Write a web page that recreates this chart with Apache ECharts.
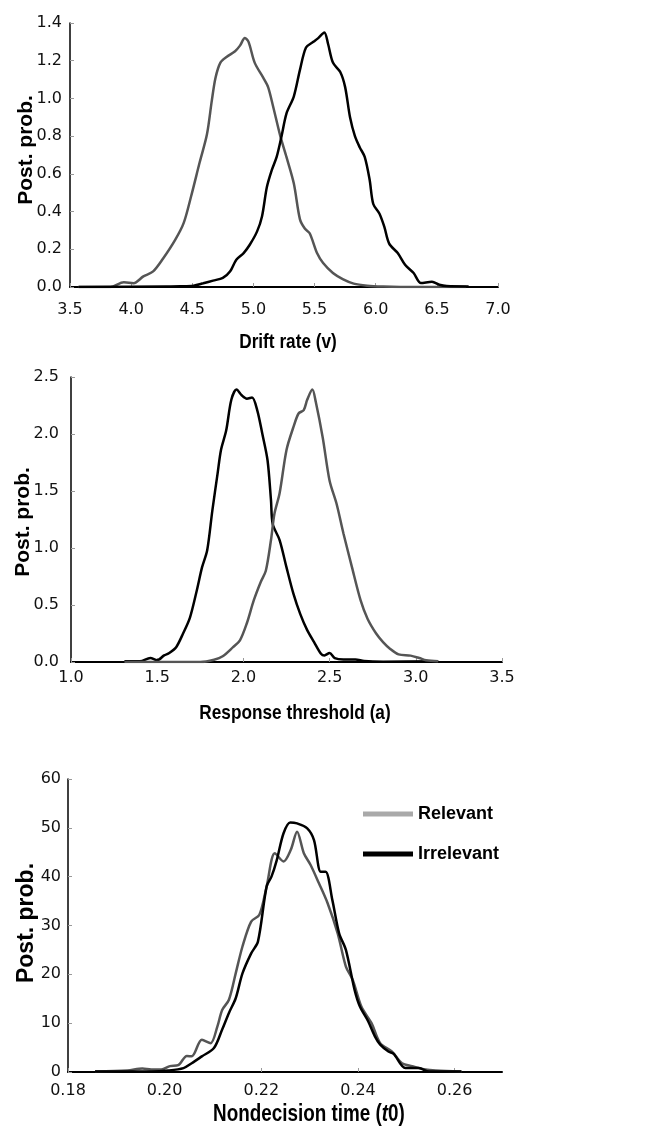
<!DOCTYPE html>
<html>
<head>
<meta charset="utf-8">
<script src="https://cdn.jsdelivr.net/npm/echarts@6/dist/echarts.min.js"></script>
<style>
  html, body { margin: 0; padding: 0; background: #fff; }
  #chart { width: 654px; height: 1134px; }
</style>
</head>
<body>
<div id="chart"></div>
<script>
// 数据：后验密度 [x, 密度]
const driftRelevant = [
  [3.57, 0], [3.83, 0], [3.94, 0.025], [4.02, 0.02], [4.10, 0.056], [4.18, 0.083],
  [4.26, 0.15], [4.36, 0.25], [4.43, 0.34], [4.49, 0.48], [4.56, 0.66], [4.62, 0.81],
  [4.66, 0.99], [4.69, 1.11], [4.73, 1.19], [4.78, 1.22], [4.85, 1.25], [4.89, 1.28],
  [4.93, 1.32], [4.96, 1.30], [5.01, 1.19], [5.08, 1.11], [5.12, 1.06], [5.16, 0.96],
  [5.22, 0.80], [5.27, 0.69], [5.33, 0.55], [5.38, 0.36], [5.42, 0.31], [5.46, 0.285],
  [5.52, 0.18], [5.57, 0.127], [5.65, 0.074], [5.73, 0.042], [5.82, 0.018], [5.93, 0.007],
  [6.06, 0.002], [6.2, 0], [6.74, 0]
];
const driftIrrelevant = [
  [3.57, 0], [4.29, 0.003], [4.40, 0.004], [4.51, 0.007], [4.59, 0.02], [4.67, 0.034],
  [4.75, 0.048], [4.81, 0.083], [4.86, 0.145], [4.92, 0.18], [4.97, 0.224], [5.03, 0.295],
  [5.07, 0.374], [5.11, 0.53], [5.15, 0.62], [5.19, 0.69], [5.23, 0.80], [5.27, 0.92],
  [5.33, 1.01], [5.38, 1.15], [5.43, 1.27], [5.49, 1.30], [5.53, 1.32], [5.58, 1.35],
  [5.61, 1.29], [5.65, 1.19], [5.71, 1.14], [5.75, 1.06], [5.79, 0.90], [5.83, 0.80],
  [5.87, 0.74], [5.91, 0.69], [5.95, 0.57], [5.98, 0.44], [6.03, 0.39], [6.07, 0.32],
  [6.11, 0.23], [6.18, 0.18], [6.24, 0.118], [6.31, 0.074], [6.37, 0.021], [6.46, 0.028],
  [6.52, 0.012], [6.58, 0.005], [6.76, 0.003]
];
const threshRelevant = [
  [1.31, 0], [1.75, 0], [1.83, 0.02], [1.88, 0.05], [1.94, 0.13], [1.98, 0.19],
  [2.02, 0.34], [2.06, 0.54], [2.10, 0.70], [2.13, 0.80], [2.16, 1.07], [2.18, 1.30],
  [2.21, 1.48], [2.25, 1.86], [2.29, 2.06], [2.32, 2.18], [2.35, 2.21], [2.37, 2.30],
  [2.40, 2.39], [2.42, 2.28], [2.46, 1.97], [2.50, 1.59], [2.54, 1.39], [2.58, 1.13],
  [2.63, 0.83], [2.68, 0.54], [2.72, 0.38], [2.77, 0.25], [2.81, 0.175], [2.85, 0.117],
  [2.90, 0.067], [2.97, 0.056], [3.02, 0.035], [3.06, 0.015], [3.13, 0.006]
];
const threshIrrelevant = [
  [1.31, 0.006], [1.40, 0.006], [1.46, 0.035], [1.50, 0.015], [1.54, 0.058], [1.57, 0.079],
  [1.61, 0.13], [1.65, 0.25], [1.69, 0.39], [1.73, 0.63], [1.76, 0.83], [1.79, 0.98],
  [1.82, 1.33], [1.85, 1.65], [1.87, 1.86], [1.90, 2.03], [1.93, 2.30], [1.96, 2.39],
  [1.99, 2.34], [2.02, 2.31], [2.05, 2.32], [2.08, 2.21], [2.11, 2.00], [2.14, 1.77],
  [2.16, 1.42], [2.17, 1.21], [2.21, 1.07], [2.25, 0.83], [2.29, 0.60], [2.33, 0.42],
  [2.37, 0.28], [2.41, 0.175], [2.45, 0.073], [2.47, 0.058], [2.50, 0.079], [2.53, 0.035],
  [2.58, 0.023], [2.65, 0.023], [2.70, 0.009], [2.81, 0.003], [3.13, 0.006]
];
const t0Relevant = [
  [0.1856, 0.1], [0.1923, 0.3], [0.1954, 0.7], [0.1972, 0.5], [0.1993, 0.5], [0.2011, 1.2],
  [0.2028, 1.4], [0.2046, 3.3], [0.2056, 3.2], [0.2077, 6.6], [0.2095, 5.9], [0.2109, 9.3],
  [0.2119, 12.7], [0.2133, 14.8], [0.2147, 20.2], [0.2161, 25.7], [0.2179, 30.8], [0.2196, 32.2],
  [0.2211, 38.0], [0.2228, 44.8], [0.2246, 43.1], [0.2261, 45.5], [0.2274, 49.2], [0.2288, 44.8],
  [0.2302, 42.4], [0.2319, 38.7], [0.2337, 34.6], [0.2358, 28.4], [0.2375, 21.6], [0.2389, 18.9],
  [0.2407, 13.4], [0.2428, 10.0], [0.2446, 5.9], [0.2470, 4.2], [0.2491, 1.8], [0.2512, 1.2],
  [0.2540, 0.5], [0.2561, 0.3], [0.2614, 0.1]
];
const t0Irrelevant = [
  [0.1856, 0.1], [0.1972, 0.1], [0.2007, 0.3], [0.2039, 0.8], [0.2056, 1.8], [0.2077, 3.2],
  [0.2102, 4.9], [0.2119, 8.7], [0.2133, 12.1], [0.2147, 15.1], [0.2161, 20.2], [0.2179, 24.3],
  [0.2193, 26.7], [0.2211, 38.0], [0.2221, 40.0], [0.2232, 43.4], [0.2246, 48.9], [0.2260, 51.1],
  [0.2274, 50.9], [0.2295, 49.9], [0.2309, 47.5], [0.2323, 41.0], [0.2333, 41.0], [0.2347, 35.2],
  [0.2361, 28.4], [0.2375, 25.0], [0.2393, 16.8], [0.2404, 13.4], [0.2421, 10.4], [0.2435, 7.3],
  [0.2446, 5.6], [0.2463, 4.2], [0.2474, 3.7], [0.2498, 0.8], [0.2526, 0.8], [0.2547, 0.1],
  [0.2614, 0.1]
];
const seriesNames = ['Relevant', 'Irrelevant'];
const xTitles = ['Drift rate (v)', 'Response threshold (a)', 'Nondecision time ({i|t}0)'];

const tickFont = '"DejaVu Sans", sans-serif';
const boldFont = '"Liberation Sans", Arial, sans-serif';
const grayLine = '#555555';

let myChart = echarts.init(document.getElementById('chart'));

function xAxisOf(gridIndex, min, max, interval, digits, margin) {
  return {
    type: 'value', gridIndex: gridIndex, min: min, max: max, interval: interval,
    axisLine: { lineStyle: { color: '#000', width: 2 } },
    axisTick: { inside: true, length: 4, lineStyle: { color: '#999' } },
    splitLine: { show: false },
    axisLabel: {
      margin: margin, color: '#111', fontSize: 16, fontFamily: tickFont,
      showMaxLabel: digits === 2 ? false : true,
      formatter: v => v.toFixed(digits)
    }
  };
}
function yAxisOf(gridIndex, max, interval, digits, margin) {
  return {
    type: 'value', gridIndex: gridIndex, min: 0, max: max, interval: interval,
    axisLine: { show: true, lineStyle: { color: '#000', width: 1.5 } },
    axisTick: { show: true, inside: true, length: 4, lineStyle: { color: '#999' } },
    splitLine: { show: false },
    axisLabel: {
      margin: margin, color: '#111', fontSize: 16, fontFamily: tickFont,
      formatter: v => v.toFixed(digits)
    }
  };
}
function curve(name, data, idx) {
  return {
    name: name, type: 'line', data: data, xAxisIndex: idx, yAxisIndex: idx,
    showSymbol: false, smooth: 0.3, silent: true,
    color: name === 'Relevant' ? grayLine : '#000',
    lineStyle: { width: 2.5, color: name === 'Relevant' ? grayLine : '#000' }
  };
}
function yTitle(x, y, size) {
  return {
    type: 'text', x: x, y: y, rotation: Math.PI / 2,
    style: {
      text: 'Post. prob.', align: 'center', verticalAlign: 'middle',
      font: 'bold ' + size + 'px ' + boldFont, fill: '#000'
    }
  };
}
// 横轴标题：原图是窄体粗字，这里用 scaleX 压窄
function xTitle(text, x, y, size) {
  return {
    type: 'text', x: x, y: y, scaleX: 0.82,
    style: {
      text: text, align: 'center', verticalAlign: 'middle',
      fontFamily: boldFont, fontWeight: 'bold', fontSize: size, fill: '#000',
      rich: { i: { fontFamily: boldFont, fontWeight: 'bold', fontStyle: 'italic', fontSize: size } }
    }
  };
}

myChart.setOption({
  animation: false,
  grid: [
    { left: 70, top: 23, width: 428, height: 264 },
    { left: 71, top: 377, width: 431, height: 285 },
    { left: 68, top: 779, width: 434, height: 293 }
  ],
  xAxis: [
    xAxisOf(0, 3.5, 7.0, 0.5, 1, 15),
    xAxisOf(1, 1.0, 3.5, 0.5, 1, 8),
    xAxisOf(2, 0.18, 0.2698, 0.02, 2, 11)
  ],
  yAxis: [
    yAxisOf(0, 1.4, 0.2, 1, 8),
    yAxisOf(1, 2.5, 0.5, 1, 12),
    yAxisOf(2, 60, 10, 0, 7)
  ],
  legend: {
    left: 358, top: 800, orient: 'vertical', icon: 'rect',
    itemWidth: 50, itemHeight: 5, itemGap: 22, selectedMode: false,
    textStyle: { fontFamily: boldFont, fontWeight: 'bold', fontSize: 18, color: '#000' },
    data: [
      { name: seriesNames[0], itemStyle: { color: '#a9a9a9' } },
      { name: seriesNames[1], itemStyle: { color: '#000' } }
    ]
  },
  graphic: [
    yTitle(26, 150, 21),
    yTitle(23, 522, 21),
    yTitle(27, 923, 23),
    xTitle(xTitles[0], 288, 342, 21),
    xTitle(xTitles[1], 295, 713, 21),
    xTitle(xTitles[2], 309, 1115, 23)
  ],
  series: [
    curve(seriesNames[0], driftRelevant, 0),
    curve(seriesNames[1], driftIrrelevant, 0),
    curve(seriesNames[1], threshIrrelevant, 1),
    curve(seriesNames[0], threshRelevant, 1),
    curve(seriesNames[0], t0Relevant, 2),
    curve(seriesNames[1], t0Irrelevant, 2)
  ]
});
</script>
</body>
</html>
